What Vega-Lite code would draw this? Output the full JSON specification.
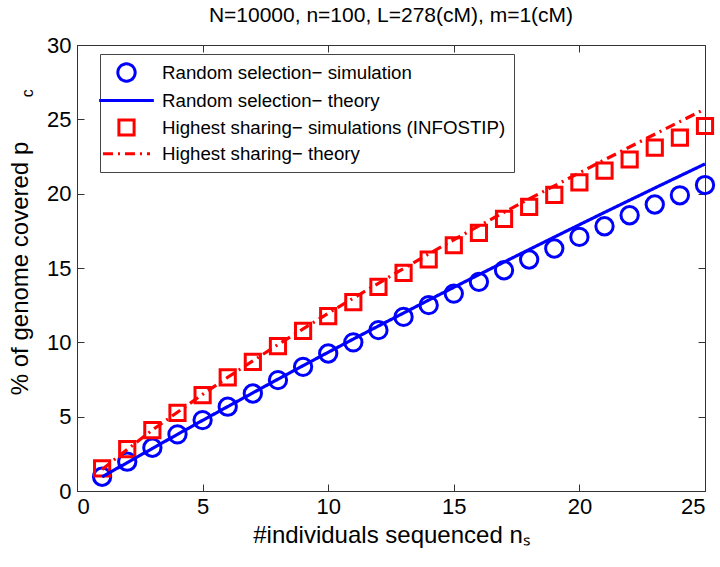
{
  "$schema": "https://vega.github.io/schema/vega-lite/v6.json",
  "width": 628,
  "height": 446,
  "autosize": {"type": "none"},
  "padding": {"left": 77, "top": 45, "right": 15, "bottom": 76},
  "background": "white",
  "title": {
    "text": "N=10000, n=100, L=278(cM), m=1(cM)",
    "font": "Liberation Sans",
    "fontSize": 21,
    "fontWeight": "normal",
    "color": "black",
    "anchor": "middle",
    "offset": 8
  },
  "config": {
    "view": {"stroke": "#333333", "strokeWidth": 1},
    "axis": {
      "domainColor": "#333333",
      "tickColor": "#333333",
      "tickSize": -7,
      "labelFont": "Liberation Sans",
      "labelFontSize": 22,
      "labelColor": "black",
      "titleFont": "Liberation Sans",
      "titleFontSize": 24,
      "titleFontWeight": "normal",
      "titleColor": "black",
      "grid": false
    },
    "legend": {
      "orient": "none",
      "legendX": 23,
      "legendY": 9,
      "title": null,
      "strokeColor": "#444444",
      "fillColor": "white",
      "padding": 8,
      "labelFont": "Liberation Sans",
      "labelFontSize": 18.7,
      "labelColor": "black",
      "labelLimit": 500,
      "symbolSize": 196,
      "symbolStrokeWidth": 3,
      "rowPadding": 2.5,
      "labelOffset": 25,
      "symbolOffset": 8
    }
  },
  "datasets": {
    "sim": [
      {"n": 1, "series": "Random selection− simulation", "value": 0.96},
      {"n": 2, "series": "Random selection− simulation", "value": 1.97},
      {"n": 3, "series": "Random selection− simulation", "value": 2.91},
      {"n": 4, "series": "Random selection− simulation", "value": 3.81},
      {"n": 5, "series": "Random selection− simulation", "value": 4.77},
      {"n": 6, "series": "Random selection− simulation", "value": 5.67},
      {"n": 7, "series": "Random selection− simulation", "value": 6.56},
      {"n": 8, "series": "Random selection− simulation", "value": 7.46},
      {"n": 9, "series": "Random selection− simulation", "value": 8.35},
      {"n": 10, "series": "Random selection− simulation", "value": 9.25},
      {"n": 11, "series": "Random selection− simulation", "value": 10.0},
      {"n": 12, "series": "Random selection− simulation", "value": 10.82},
      {"n": 13, "series": "Random selection− simulation", "value": 11.71},
      {"n": 14, "series": "Random selection− simulation", "value": 12.5},
      {"n": 15, "series": "Random selection− simulation", "value": 13.28},
      {"n": 16, "series": "Random selection− simulation", "value": 14.07},
      {"n": 17, "series": "Random selection− simulation", "value": 14.85},
      {"n": 18, "series": "Random selection− simulation", "value": 15.57},
      {"n": 19, "series": "Random selection− simulation", "value": 16.31},
      {"n": 20, "series": "Random selection− simulation", "value": 17.09},
      {"n": 21, "series": "Random selection− simulation", "value": 17.81},
      {"n": 22, "series": "Random selection− simulation", "value": 18.55},
      {"n": 23, "series": "Random selection− simulation", "value": 19.27},
      {"n": 24, "series": "Random selection− simulation", "value": 19.89},
      {"n": 25, "series": "Random selection− simulation", "value": 20.58},
      {"n": 1, "series": "Highest sharing− simulations (INFOSTIP)", "value": 1.52},
      {"n": 2, "series": "Highest sharing− simulations (INFOSTIP)", "value": 2.82},
      {"n": 3, "series": "Highest sharing− simulations (INFOSTIP)", "value": 4.1},
      {"n": 4, "series": "Highest sharing− simulations (INFOSTIP)", "value": 5.26},
      {"n": 5, "series": "Highest sharing− simulations (INFOSTIP)", "value": 6.45},
      {"n": 6, "series": "Highest sharing− simulations (INFOSTIP)", "value": 7.64},
      {"n": 7, "series": "Highest sharing− simulations (INFOSTIP)", "value": 8.69},
      {"n": 8, "series": "Highest sharing− simulations (INFOSTIP)", "value": 9.74},
      {"n": 9, "series": "Highest sharing− simulations (INFOSTIP)", "value": 10.77},
      {"n": 10, "series": "Highest sharing− simulations (INFOSTIP)", "value": 11.76},
      {"n": 11, "series": "Highest sharing− simulations (INFOSTIP)", "value": 12.7},
      {"n": 12, "series": "Highest sharing− simulations (INFOSTIP)", "value": 13.73},
      {"n": 13, "series": "Highest sharing− simulations (INFOSTIP)", "value": 14.67},
      {"n": 14, "series": "Highest sharing− simulations (INFOSTIP)", "value": 15.57},
      {"n": 15, "series": "Highest sharing− simulations (INFOSTIP)", "value": 16.53},
      {"n": 16, "series": "Highest sharing− simulations (INFOSTIP)", "value": 17.36},
      {"n": 17, "series": "Highest sharing− simulations (INFOSTIP)", "value": 18.3},
      {"n": 18, "series": "Highest sharing− simulations (INFOSTIP)", "value": 19.11},
      {"n": 19, "series": "Highest sharing− simulations (INFOSTIP)", "value": 19.92},
      {"n": 20, "series": "Highest sharing− simulations (INFOSTIP)", "value": 20.76},
      {"n": 21, "series": "Highest sharing− simulations (INFOSTIP)", "value": 21.55},
      {"n": 22, "series": "Highest sharing− simulations (INFOSTIP)", "value": 22.3},
      {"n": 23, "series": "Highest sharing− simulations (INFOSTIP)", "value": 23.1},
      {"n": 24, "series": "Highest sharing− simulations (INFOSTIP)", "value": 23.77},
      {"n": 25, "series": "Highest sharing− simulations (INFOSTIP)", "value": 24.55}
    ],
    "theory": [
      {"n": 1, "series": "Random selection− theory", "value": 0.95},
      {"n": 2, "series": "Random selection− theory", "value": 1.91},
      {"n": 3, "series": "Random selection− theory", "value": 2.86},
      {"n": 4, "series": "Random selection− theory", "value": 3.81},
      {"n": 5, "series": "Random selection− theory", "value": 4.75},
      {"n": 6, "series": "Random selection− theory", "value": 5.68},
      {"n": 7, "series": "Random selection− theory", "value": 6.6},
      {"n": 8, "series": "Random selection− theory", "value": 7.52},
      {"n": 9, "series": "Random selection− theory", "value": 8.43},
      {"n": 10, "series": "Random selection− theory", "value": 9.33},
      {"n": 11, "series": "Random selection− theory", "value": 10.22},
      {"n": 12, "series": "Random selection− theory", "value": 11.1},
      {"n": 13, "series": "Random selection− theory", "value": 11.97},
      {"n": 14, "series": "Random selection− theory", "value": 12.84},
      {"n": 15, "series": "Random selection− theory", "value": 13.7},
      {"n": 16, "series": "Random selection− theory", "value": 14.55},
      {"n": 17, "series": "Random selection− theory", "value": 15.4},
      {"n": 18, "series": "Random selection− theory", "value": 16.24},
      {"n": 19, "series": "Random selection− theory", "value": 17.08},
      {"n": 20, "series": "Random selection− theory", "value": 17.91},
      {"n": 21, "series": "Random selection− theory", "value": 18.74},
      {"n": 22, "series": "Random selection− theory", "value": 19.56},
      {"n": 23, "series": "Random selection− theory", "value": 20.38},
      {"n": 24, "series": "Random selection− theory", "value": 21.19},
      {"n": 25, "series": "Random selection− theory", "value": 22.0},
      {"n": 1, "series": "Highest sharing− theory", "value": 1.45},
      {"n": 2, "series": "Highest sharing− theory", "value": 2.8},
      {"n": 3, "series": "Highest sharing− theory", "value": 4.1},
      {"n": 4, "series": "Highest sharing− theory", "value": 5.3},
      {"n": 5, "series": "Highest sharing− theory", "value": 6.5},
      {"n": 6, "series": "Highest sharing− theory", "value": 7.65},
      {"n": 7, "series": "Highest sharing− theory", "value": 8.75},
      {"n": 8, "series": "Highest sharing− theory", "value": 9.85},
      {"n": 9, "series": "Highest sharing− theory", "value": 10.9},
      {"n": 10, "series": "Highest sharing− theory", "value": 11.95},
      {"n": 11, "series": "Highest sharing− theory", "value": 12.97},
      {"n": 12, "series": "Highest sharing− theory", "value": 13.97},
      {"n": 13, "series": "Highest sharing− theory", "value": 14.96},
      {"n": 14, "series": "Highest sharing− theory", "value": 15.95},
      {"n": 15, "series": "Highest sharing− theory", "value": 16.9},
      {"n": 16, "series": "Highest sharing− theory", "value": 17.83},
      {"n": 17, "series": "Highest sharing− theory", "value": 18.75},
      {"n": 18, "series": "Highest sharing− theory", "value": 19.65},
      {"n": 19, "series": "Highest sharing− theory", "value": 20.52},
      {"n": 20, "series": "Highest sharing− theory", "value": 21.4},
      {"n": 21, "series": "Highest sharing− theory", "value": 22.28},
      {"n": 22, "series": "Highest sharing− theory", "value": 23.14},
      {"n": 23, "series": "Highest sharing− theory", "value": 24.0},
      {"n": 24, "series": "Highest sharing− theory", "value": 24.85},
      {"n": 25, "series": "Highest sharing− theory", "value": 25.7}
    ],
    "sub": [
      {"t": "c"}
    ]
  },
  "layer": [
    {
      "data": {"name": "sim"},
      "mark": {"type": "point", "filled": false, "strokeWidth": 3, "opacity": 1},
      "encoding": {
        "x": {
          "field": "n", "type": "quantitative",
          "scale": {"domain": [0, 25], "nice": false, "zero": false},
          "axis": {"orient": "bottom", "values": [0, 5, 10, 15, 20, 25], "title": "#individuals sequenced nₛ", "labelPadding": 12, "titlePadding": 6}
        },
        "y": {
          "field": "value", "type": "quantitative",
          "scale": {"domain": [0, 30], "nice": false},
          "axis": {"orient": "left", "values": [0, 5, 10, 15, 20, 25, 30], "title": "% of genome covered p", "labelPadding": 13, "titlePadding": 14}
        },
        "color": {
          "field": "series", "type": "nominal",
          "scale": {
            "domain": ["Random selection− simulation", "Random selection− theory", "Highest sharing− simulations (INFOSTIP)", "Highest sharing− theory"],
            "range": ["#0000ff", "#0000ff", "#ff0000", "#ff0000"]
          },
          "legend": {"title": null}
        },
        "shape": {
          "field": "series", "type": "nominal",
          "scale": {
            "domain": ["Random selection− simulation", "Random selection− theory", "Highest sharing− simulations (INFOSTIP)", "Highest sharing− theory"],
            "range": ["circle", "M-3.36,0L3.36,0", "square", "M-3.36,0L3.36,0"]
          },
          "legend": {"title": null}
        },
        "size": {
          "field": "series", "type": "nominal",
          "scale": {
            "domain": ["Random selection− simulation", "Random selection− theory", "Highest sharing− simulations (INFOSTIP)", "Highest sharing− theory"],
            "range": [300, 196, 169, 196]
          },
          "legend": null
        }
      }
    },
    {
      "data": {"name": "theory"},
      "mark": {"type": "line", "strokeWidth": 3.2},
      "encoding": {
        "x": {"field": "n", "type": "quantitative", "axis": {"orient": "top", "values": [0, 5, 10, 15, 20, 25], "labels": false, "title": null, "domain": false}},
        "y": {"field": "value", "type": "quantitative", "axis": {"orient": "right", "values": [0, 5, 10, 15, 20, 25, 30], "labels": false, "title": null, "domain": false}},
        "color": {"field": "series", "type": "nominal", "legend": {"title": null}},
        "strokeDash": {
          "field": "series", "type": "nominal",
          "scale": {
            "domain": ["Random selection− simulation", "Random selection− theory", "Highest sharing− simulations (INFOSTIP)", "Highest sharing− theory"],
            "range": [[1, 0], [1, 0], [1, 0], [10, 5, 2, 5]]
          },
          "legend": {"title": null}
        }
      }
    },
    {
      "data": {"name": "sub"},
      "mark": {"type": "text", "angle": 270, "font": "Liberation Sans", "fontSize": 16, "color": "black", "clip": false, "align": "center", "baseline": "middle"},
      "encoding": {
        "x": {"datum": -1.95, "type": "quantitative", "axis": null},
        "y": {"datum": 26.75, "type": "quantitative", "axis": null},
        "text": {"field": "t", "type": "nominal"}
      }
    }
  ],
  "resolve": {"axis": {"x": "independent", "y": "independent"}}
}
